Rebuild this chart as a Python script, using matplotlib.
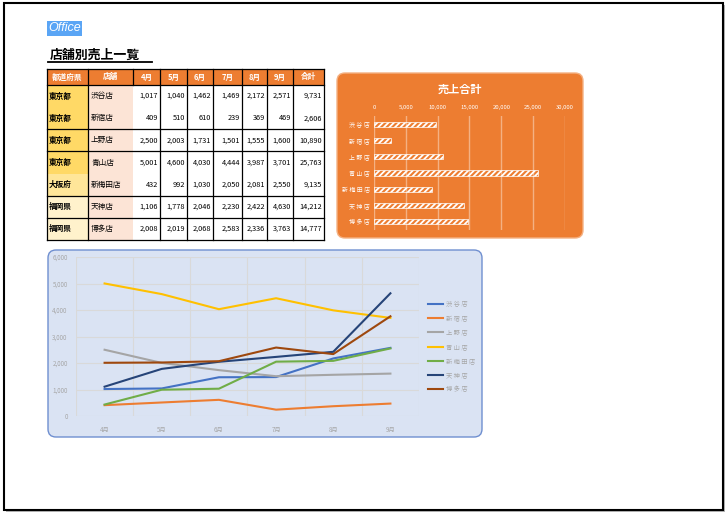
import numpy as np
import matplotlib.pyplot as plt
from matplotlib.patches import Rectangle, FancyBboxPatch

plt.rcParams['font.family'] = ['Noto Sans CJK JP', 'DejaVu Sans']
plt.rcParams['hatch.linewidth'] = 1.3

# Data
months = ['4月', '5月', '6月', '7月', '8月', '9月']
header = ['都道府県', '店舗'] + months + ['合計']
prefs = ['東京都', '東京都', '東京都', '東京都', '大阪府', '福岡県', '福岡県']
stores = ['渋谷店', '新宿店', '上野店', '青山店', '新梅田店', '天神店', '博多店']
shibuya = [1017, 1040, 1462, 1469, 2172, 2571]
shinjuku = [409, 510, 610, 239, 369, 469]
ueno = [2500, 2003, 1731, 1501, 1555, 1600]
aoyama = [5001, 4600, 4030, 4444, 3987, 3701]
shinumeda = [432, 992, 1030, 2050, 2081, 2550]
tenjin = [1106, 1778, 2046, 2230, 2422, 4630]
hakata = [2008, 2019, 2068, 2583, 2336, 3763]
totals = [9731, 2606, 10890, 25763, 9135, 14212, 14777]
series = [shibuya, shinjuku, ueno, aoyama, shinumeda, tenjin, hakata]
line_colors = ['#4472C4', '#ED7D31', '#A5A5A5', '#FFC000', '#70AD47', '#264478', '#9E480E']
pref_colors = ['#FFD966', '#FFD966', '#FFD966', '#FFD966', '#FFE699', '#FFF2CC', '#FFF2CC']

W, H = 728, 515
fig = plt.figure(figsize=(W / 100, H / 100), dpi=100)
fig.patch.set_facecolor('white')

# page layer in pixel coordinates
page = fig.add_axes([0, 0, 1, 1])
page.set_xlim(0, W)
page.set_ylim(H, 0)
page.axis('off')

page.add_patch(Rectangle((6, 5), 719, 507, fc='#b5b5b5', ec='none'))
page.add_patch(Rectangle((4, 3), 719, 507, fc='white', ec='black', lw=1.5))

page.text(48, 28, 'Office', color='white', style='italic', fontsize=9,
          family='Liberation Sans', va='center', ha='left',
          bbox=dict(boxstyle='square,pad=0.12', fc='#5aa5f5', ec='none'))
page.text(50, 55, '店舗別売上一覧', fontsize=9.3, fontweight='bold', va='center', ha='left')
page.plot([48, 152], [62, 62], color='black', lw=1.3)

# table
col_x = [47, 88, 133, 160, 187, 213, 242, 267, 293, 324]
top, hdr_b, bottom = 69, 85, 240
row_h = (bottom - hdr_b) / len(stores)

page.add_patch(Rectangle((col_x[0], top), col_x[-1] - col_x[0], hdr_b - top, fc='#ED7D31', ec='none'))
for i, h in enumerate(header):
    page.text((col_x[i] + col_x[i + 1]) / 2, (top + hdr_b) / 2, h, color='white',
              fontsize=5.5, fontweight='bold', ha='center', va='center')

for r in range(len(stores)):
    y0 = hdr_b + r * row_h
    yc = y0 + row_h / 2
    page.add_patch(Rectangle((col_x[0], y0), col_x[1] - col_x[0], row_h, fc=pref_colors[r], ec='none'))
    page.add_patch(Rectangle((col_x[1], y0), col_x[2] - col_x[1], row_h, fc='#FCE4D6', ec='none'))
    page.text(col_x[0] + 2, yc, prefs[r], fontsize=5.5, fontweight='bold', ha='left', va='center')
    page.text(col_x[1] + 3, yc, stores[r], fontsize=5.5, ha='left', va='center')
    vals = series[r] + [totals[r]]
    for c, v in enumerate(vals):
        page.text(col_x[c + 3] - 2, yc, f'{v:,}', fontsize=5.3, ha='right', va='center')

for x in col_x:
    if x == 133:
        page.plot([x, x], [top, hdr_b], color='black', lw=0.9)
    else:
        page.plot([x, x], [top, bottom], color='black', lw=0.9)
for k in [0, 2, 3, 5, 6, 7]:
    y = hdr_b + k * row_h
    page.plot([col_x[0], col_x[-1]], [y, y], color='black', lw=0.9)
page.plot([col_x[0], col_x[-1]], [top, top], color='black', lw=0.9)

# bar chart box
page.add_patch(FancyBboxPatch((337, 73), 246, 165, boxstyle='round,pad=0,rounding_size=8',
                              fc='#ED7D31', ec='#F4B183', lw=1))
page.text(460, 89, '売上合計', color='white', fontsize=8, fontweight='bold', ha='center', va='center')

ax_bar = fig.add_axes([374 / W, 1 - 230 / H, (565 - 374) / W, (230 - 116) / H])
ax_bar.patch.set_alpha(0)
ypos = np.arange(len(stores))
ax_bar.barh(ypos, totals, height=0.32, fc='none', ec='white', lw=0.5, hatch='//////')
ax_bar.set_xlim(0, 30000)
ax_bar.set_ylim(len(stores) - 0.5, -0.5)
ax_bar.set_xticks(np.arange(0, 30001, 5000))
ax_bar.set_xticklabels([f'{v:,}' for v in range(0, 30001, 5000)])
ax_bar.set_yticks(ypos)
ax_bar.set_yticklabels([' '.join(s) for s in stores])
ax_bar.xaxis.tick_top()
ax_bar.tick_params(length=0, labelsize=4.3, colors='white')
ax_bar.tick_params(axis='x', pad=4)
ax_bar.tick_params(axis='y', pad=3)
ax_bar.grid(axis='x', color='#F4B183', lw=1)
ax_bar.set_axisbelow(True)
for s in ax_bar.spines.values():
    s.set_visible(False)

# line chart box
page.add_patch(FancyBboxPatch((48, 250), 434, 187, boxstyle='round,pad=0,rounding_size=8',
                              fc='#DAE3F3', ec='#6F8FD0', lw=1))

ax_line = fig.add_axes([76 / W, 1 - 416 / H, (419 - 76) / W, (416 - 257) / H])
ax_line.patch.set_alpha(0)
xpos = np.arange(len(months))
for name, vals, col in zip(stores, series, line_colors):
    ax_line.plot(xpos, vals, color=col, lw=1.5, label=' '.join(name))
ax_line.set_xlim(-0.5, len(months) - 0.5)
ax_line.set_ylim(0, 6000)
ax_line.set_xticks(xpos)
ax_line.set_xticklabels(months)
ax_line.set_xticks(np.arange(-0.5, len(months), 1), minor=True)
ax_line.set_yticks(np.arange(0, 6001, 1000))
ax_line.set_yticklabels([f'{v:,}' for v in range(0, 6001, 1000)])
ax_line.tick_params(which='both', length=0, labelsize=4.5, colors='#A6A6A6')
ax_line.tick_params(axis='x', pad=7)
ax_line.tick_params(axis='y', pad=6)
ax_line.grid(axis='y', which='major', color='#D9D9D9', lw=0.8)
ax_line.grid(axis='x', which='minor', color='#D9D9D9', lw=0.8)
ax_line.set_axisbelow(True)
for s in ax_line.spines.values():
    s.set_visible(False)

ax_line.legend(loc='upper left', bbox_to_anchor=(428 / W, 1 - 300 / H), bbox_transform=fig.transFigure,
               frameon=False, fontsize=4.5, labelcolor='#A6A6A6', handlelength=2.4,
               handletextpad=0.5, labelspacing=1.0, borderpad=0, borderaxespad=0)

fig.savefig('out.png', dpi=100)
